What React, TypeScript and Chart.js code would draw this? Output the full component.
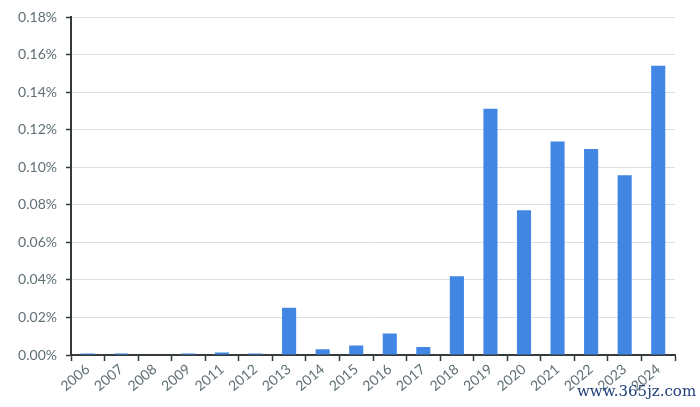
import React, { useEffect, useRef } from "react";
import { Chart, registerables } from "chart.js";

Chart.register(...registerables);

const years = ["2006","2007","2008","2009","2011","2012","2013","2014","2015","2016","2017","2018","2019","2020","2021","2022","2023","2024"];
const rates = [0.0008,0.0008,0,0.0008,0.0013,0.0008,0.0252,0.003,0.005,0.0115,0.0043,0.042,0.1313,0.0772,0.1138,0.1099,0.0958,0.1542];

export default function App() {
  const ref = useRef<HTMLCanvasElement | null>(null);
  useEffect(() => {
    if (!ref.current) return;
    const axisColor = "#353a3d";
    const labelColor = "#5f6f75";
    const tickFont = { family: "Lato, 'Open Sans', sans-serif", size: 14 };
    const chart = new Chart(ref.current, {
      type: "bar",
      data: {
        labels: years,
        datasets: [
          {
            data: rates,
            backgroundColor: "#4286e3",
            borderWidth: 0,
            barPercentage: 0.42,
            categoryPercentage: 1,
          },
        ],
      },
      options: {
        animation: false,
        responsive: true,
        maintainAspectRatio: false,
        layout: { padding: { top: 17, right: 25, left: 0, bottom: 0 } },
        plugins: { legend: { display: false }, tooltip: { enabled: false } },
        scales: {
          x: {
            afterFit: (s: any) => { s.height = 52; },
            grid: { display: true, drawOnChartArea: false, drawTicks: true, offset: true, tickLength: 6, tickColor: axisColor, tickWidth: 1.5 },
            border: { display: true, color: axisColor, width: 2 },
            ticks: { color: labelColor, font: tickFont, maxRotation: 40, minRotation: 40, autoSkip: false, padding: 0 },
          },
          y: {
            min: 0,
            max: 0.18,
            afterFit: (s: any) => { s.width = 71; },
            grid: { color: "#d8e0e3", lineWidth: 1, drawTicks: true, tickLength: 5, tickColor: axisColor, tickWidth: 1.5 },
            border: { display: true, color: axisColor, width: 2 },
            ticks: {
              stepSize: 0.02,
              color: labelColor,
              font: tickFont,
              padding: 9,
              callback: (v: any) => Number(v).toFixed(2) + "%",
            },
          },
        },
      },
    });
    return () => chart.destroy();
  }, []);
  return (
    <div style={{ position: "fixed", left: 0, top: 0, width: 700, height: 407, background: "#fff" }}>
      <canvas ref={ref} />
      <div
        style={{
          position: "absolute",
          left: 577,
          top: 382,
          fontFamily: "'DejaVu Serif', 'Liberation Serif', serif",
          fontSize: 15,
          color: "#1d3f7a",
        }}
      >
        www.365jz.com
      </div>
    </div>
  );
}
